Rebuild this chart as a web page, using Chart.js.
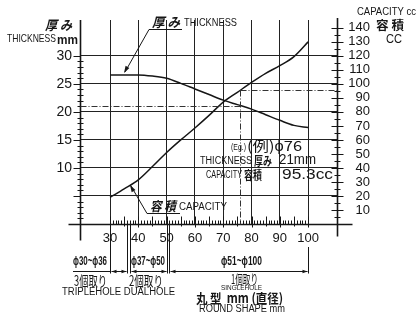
<!DOCTYPE html>
<html><head><meta charset="utf-8">
<script src="https://cdn.jsdelivr.net/npm/chart.js@4.4.0/dist/chart.umd.min.js"></script>
<style>html,body{margin:0;padding:0;background:#fff}#wrap{width:417px;height:315px}</style>
</head><body><div id="wrap"><canvas id="c" width="417" height="315"></canvas></div>
<script>
// ---- data ----
const diameters   = [30, 35, 40, 45, 50, 55, 60, 65, 70, 75, 80, 85, 90, 95, 100];
const thicknessMm = [26.6, 26.6, 26.6, 26.4, 26.0, 25.1, 24.1, 23.1, 22.1, 21.3, 20.5, 19.5, 18.5, 17.6, 17.2];
const capacityCc  = [19, 25, 31.5, 41, 51, 60, 68.5, 77.5, 87, 94, 101, 107.5, 113, 119.5, 130];
const xTickValues     = [30, 40, 50, 60, 70, 80, 90, 100];
const leftTickValues  = [5, 10, 15, 20, 25, 30];
const leftLabelValues = [10, 15, 20, 25, 30];
const rightTickValues = [10, 20, 30, 40, 50, 60, 70, 80, 90, 100, 110, 120, 130, 140];
const exampleDiameter = 76;
const exampleThickness = 21;
const exampleCapacity = 95.3;
const rangeBreaks = [30, 36, 37, 50, 51, 100];

const INK = '#161616';
const SANS = '"Liberation Sans", Arial, sans-serif';
const JP = '"Noto Sans CJK JP", sans-serif';

function seg(ctx, x1, y1, x2, y2, w) {
  ctx.lineWidth = w || 1;
  ctx.beginPath(); ctx.moveTo(x1, y1); ctx.lineTo(x2, y2); ctx.stroke();
}
function fitText(ctx, text, x, y, w, font) {
  ctx.save();
  ctx.font = font;
  ctx.textBaseline = 'middle';
  ctx.textAlign = 'left';
  const m = ctx.measureText(text).width;
  ctx.translate(x, y);
  ctx.scale(w / m, 1);
  ctx.fillText(text, 0, 0);
  ctx.restore();
}
function arrowHead(ctx, tx, ty, fx, fy, len, half) {
  const a = Math.atan2(ty - fy, tx - fx);
  ctx.beginPath();
  ctx.moveTo(tx, ty);
  ctx.lineTo(tx - len * Math.cos(a) + half * Math.sin(a), ty - len * Math.sin(a) - half * Math.cos(a));
  ctx.lineTo(tx - len * Math.cos(a) - half * Math.sin(a), ty - len * Math.sin(a) + half * Math.cos(a));
  ctx.closePath(); ctx.fill();
}

const decor = {
  id: 'decor',
  afterDraw(chart) {
    const ctx = chart.ctx;
    const xs = chart.scales.x, yl = chart.scales.y, yr = chart.scales.y1;
    const X = v => Math.round(xs.getPixelForValue(v)) + 0.5;
    const YL = v => Math.round(yl.getPixelForValue(v)) + 0.5;
    const YR = v => Math.round(yr.getPixelForValue(v)) + 0.5;
    const ca = chart.chartArea;
    const L = Math.round(ca.left) + 0.5, R = Math.round(ca.right) + 0.5;
    const T = ca.top, B = Math.round(ca.bottom) + 0.5;
    ctx.save();
    ctx.strokeStyle = INK; ctx.fillStyle = INK;

    // axis lines
    seg(ctx, L, T, L, B + 16, 1.6);
    seg(ctx, R, T - 2, R, B + 12, 1.6);
    seg(ctx, L - 12, B, R + 15, B, 1.6);

    // left axis ticks every 1 mm
    for (let v = 1; v <= 30; v++) {
      const y = YL(v);
      if (v % 5 === 0) seg(ctx, L - 7, y, L, y, 1);
      else seg(ctx, L - 3, y, L + 3, y, 1);
    }
    // right axis ticks every 5 cc
    for (let v = 5; v <= 140; v += 5) {
      const y = YR(v);
      if (v % 10 === 0) seg(ctx, R - 6, y, R + 6, y, 1);
      else seg(ctx, R - 3, y, R + 3, y, 1);
    }
    // bottom comb ticks every 1 mm
    for (let v = 30; v <= 100; v++) {
      const x = X(v);
      if (v % 10 === 0) seg(ctx, x, B - 8, x, B + 3, 1);
      else if (v % 5 === 0) seg(ctx, x, B - 8, x, B + 2, 1);
      else seg(ctx, x, B - 4, x, B, 1);
    }

    // example dash-dot guides
    ctx.save();
    ctx.setLineDash([6, 2, 1, 2]);
    ctx.strokeStyle = '#333';
    const ex = X(exampleDiameter), ety = YL(exampleThickness), ecy = YR(exampleCapacity);
    seg(ctx, L, ety, ex, ety, 1);
    seg(ctx, ex, ecy, ex, B, 1);
    seg(ctx, ex, ecy, R, ecy, 1);
    ctx.restore();

    // range break lines below the axis
    const yArrow = 271.5;
    rangeBreaks.forEach(v => {
      const x = X(v);
      if (v === 100) seg(ctx, x, 247, x, yArrow + 2, 1);
      else seg(ctx, x, B, x, yArrow + 2, 1);
    });
    // arrows
    const spans = [[30, 36], [37, 50], [51, 100]];
    spans.forEach(([a, b]) => {
      const xa = X(a) + 1, xb = X(b) - 1;
      seg(ctx, xa, yArrow, xb, yArrow, 1);
      arrowHead(ctx, xa, yArrow, xb, yArrow, 5, 1.8);
      arrowHead(ctx, xb, yArrow, xa, yArrow, 5, 1.8);
    });
    seg(ctx, 73, yArrow, X(30), yArrow, 1);

    // thickness leader
    seg(ctx, 149, 29.5, 182, 29.5, 1);
    seg(ctx, 149, 29.5, 125, 72, 1);
    arrowHead(ctx, 124, 73, 149, 29.5, 7, 2.2);
    // capacity leader
    seg(ctx, 147, 213.5, 180, 213.5, 1);
    seg(ctx, 147, 213.5, 131, 186, 1);
    arrowHead(ctx, 130, 185, 147, 213.5, 7, 2.2);

    // ---- texts ----
    // left axis title
    fitText(ctx, '厚 み', 45, 25, 27, 'italic bold 13px ' + JP);
    fitText(ctx, 'THICKNESS', 7, 39, 49, '11px ' + SANS);
    fitText(ctx, 'mm', 57, 40, 21, 'bold 13px ' + SANS);
    // right axis title
    fitText(ctx, 'CAPACITY cc', 357, 12, 59, '10px ' + SANS);
    fitText(ctx, '容 積', 376, 25, 28, 'bold 12px ' + JP);
    fitText(ctx, 'CC', 386, 39, 16, '13px ' + SANS);
    // top annotation
    fitText(ctx, '厚 み', 152, 22, 28, 'italic bold 13px ' + JP);
    fitText(ctx, 'THICKNESS', 184, 23, 53, '11px ' + SANS);
    // bottom annotation
    fitText(ctx, '容 積', 150, 206, 26, 'italic bold 13px ' + JP);
    fitText(ctx, 'CAPACITY', 179, 207, 48, '10px ' + SANS);
    // example block
    fitText(ctx, '(Eg.)', 231, 148, 15, '9px ' + SANS);
    fitText(ctx, '(例)ϕ76', 247, 146, 55, '14px ' + JP);
    fitText(ctx, 'THICKNESS', 200, 161, 52, '10px ' + SANS);
    fitText(ctx, '厚み', 254, 161, 18, 'bold 12px ' + JP);
    fitText(ctx, '21mm', 279, 160, 37, '14px ' + SANS);
    fitText(ctx, 'CAPACITY', 206, 175, 36, '10px ' + SANS);
    fitText(ctx, '容積', 244, 175, 18, 'bold 12px ' + JP);
    fitText(ctx, '95.3cc', 282, 175, 51, '14px ' + SANS);
    // bottom ranges
    fitText(ctx, 'ϕ30~ϕ36', 73, 262, 34, 'bold 12px ' + SANS);
    fitText(ctx, '3個取り', 74, 280.5, 33, '14px ' + JP);
    fitText(ctx, 'ϕ37~ϕ50', 131, 262, 34, 'bold 12px ' + SANS);
    fitText(ctx, '2個取り', 129, 280.5, 34, '14px ' + JP);
    fitText(ctx, 'ϕ51~ϕ100', 221, 262, 41, 'bold 12px ' + SANS);
    fitText(ctx, '1個取り', 231, 279.5, 27, '13px ' + JP);
    fitText(ctx, 'SINGLEHOLE', 221, 288, 41, '8px ' + SANS);
    fitText(ctx, 'TRIPLEHOLE DUALHOLE', 62, 292, 113, '10px ' + SANS);
    fitText(ctx, '丸 型  mm (直径)', 196, 298, 87, 'bold 13px ' + JP);
    fitText(ctx, 'ROUND SHAPE mm', 199, 309, 86, '10px ' + SANS);
    ctx.restore();
  }
};

new Chart(document.getElementById('c'), {
  type: 'line',
  data: {
    labels: diameters,
    datasets: [
      { label: 'THICKNESS', data: diameters.map((d, i) => ({x: d, y: thicknessMm[i]})), yAxisID: 'y',
        borderColor: INK, borderWidth: 1.5, pointRadius: 0, fill: false, cubicInterpolationMode: 'monotone' },
      { label: 'CAPACITY', data: diameters.map((d, i) => ({x: d, y: capacityCc[i]})), yAxisID: 'y1',
        borderColor: INK, borderWidth: 1.5, pointRadius: 0, fill: false, cubicInterpolationMode: 'monotone' }
    ]
  },
  options: {
    responsive: false, animation: false, devicePixelRatio: 1,
    layout: { padding: { top: 20, left: 0, right: 47, bottom: 0 } },
    plugins: { legend: { display: false }, tooltip: { enabled: false } },
    scales: {
      x: {
        type: 'linear', position: 'bottom', min: 19.4, max: 110.2,
        afterBuildTicks: s => { s.ticks = xTickValues.map(v => ({ value: v })); },
        afterFit: s => { s.height = 91; },
        grid: { color: '#222', lineWidth: 1, drawTicks: false },
        border: { display: false },
        ticks: { color: INK, padding: 7, font: { family: SANS, size: 13 }, maxRotation: 0, autoSkip: false }
      },
      y: {
        position: 'left', min: 0, max: 36.4,
        afterBuildTicks: s => { s.ticks = leftTickValues.map(v => ({ value: v })); },
        afterFit: s => { s.width = 80; },
        grid: { color: '#222', lineWidth: 1, drawTicks: false },
        border: { display: false },
        ticks: { color: INK, padding: 8, autoSkip: false, font: { family: SANS, size: 14 },
          callback: v => leftLabelValues.includes(v) ? String(v) : '' }
      },
      y1: {
        position: 'right', min: 0, max: 145.6,
        afterBuildTicks: s => { s.ticks = rightTickValues.map(v => ({ value: v })); },
        afterFit: s => { s.width = 33; },
        grid: { drawOnChartArea: false, drawTicks: false },
        border: { display: false },
        ticks: { color: INK, padding: 11, crossAlign: 'far', autoSkip: false, font: { family: SANS, size: 13 } }
      }
    }
  },
  plugins: [decor]
});
</script>
</body></html>
